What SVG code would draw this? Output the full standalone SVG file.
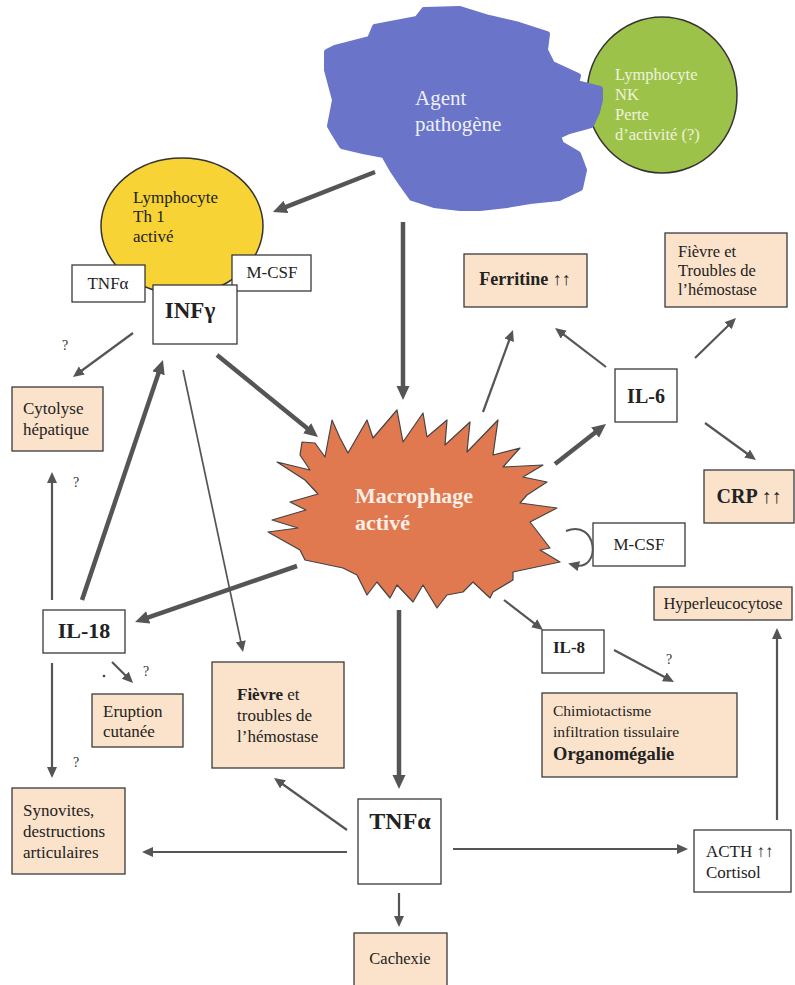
<svg xmlns="http://www.w3.org/2000/svg" width="795" height="985" viewBox="0 0 795 985">
<style>
  .t { font-family: "Liberation Serif", "Times New Roman", serif; fill: #222; }
  .b { font-weight: bold; }
  .box { fill: #ffffff; stroke: #3a3a3a; stroke-width: 1.3; }
  .pbox { fill: #fbe2cb; stroke: #3a3a3a; stroke-width: 1.3; }
  .thick { stroke: #555; stroke-width: 4.5; fill: none; marker-end: url(#ahT); }
  .thin { stroke: #555; stroke-width: 2.2; fill: none; marker-end: url(#ah); }
  .q { font-family: "Liberation Serif", serif; font-size: 14px; fill: #333; }
</style>
<defs>
  <marker id="ahT" markerUnits="userSpaceOnUse" markerWidth="16" markerHeight="14" refX="6" refY="6.5" orient="auto">
    <path d="M0,0 L14,6.5 L0,13 z" fill="#555"/>
  </marker>
  <marker id="ah" markerUnits="userSpaceOnUse" markerWidth="13" markerHeight="11" refX="5" refY="5" orient="auto">
    <path d="M0,0 L11,5 L0,10 z" fill="#555"/>
  </marker>
</defs>
<rect width="795" height="985" fill="#ffffff"/>

<g id="nk">
  <ellipse cx="662" cy="95" rx="75" ry="78" fill="#9dc24a" stroke="#333" stroke-width="1.5"/>
  <text class="t" style="fill:#eef2dc" font-size="16.5"><tspan x="615" y="80">Lymphocyte</tspan><tspan x="615" y="100">NK</tspan><tspan x="615" y="120">Perte</tspan><tspan x="615" y="140">d’activité (?)</tspan></text>
</g>

<g id="agent">
  <path d="M327,52 L335,48 L370,39 L375,27 L417,19 L424,10 L460,9 L489,18 L519,25 L547,34 L545,50 L552,64 L578,76 L576,83 L600,89 L600,100 L597,112 L591,125 L569,131 L558,136 L561,144 L578,154 L584,170 L580,188 L559,198 L530,201 L507,205 L480,208 L460,208 L434,205 L412,198 L402,184 L392,169 L384,155 L363,151 L342,146 L334,133 L330,126 L335,100 L327,70 Z" fill="#6a74c9" stroke="#6a74c9" stroke-width="6" stroke-linejoin="round"/>
  <text class="t" style="fill:#eef0f8" font-size="21"><tspan x="415" y="105">Agent</tspan><tspan x="415" y="131">pathogène</tspan></text>
</g>

<g id="th1">
  <ellipse cx="182" cy="226" rx="81" ry="68" fill="#f7d335" stroke="#333" stroke-width="1.5"/>
  <text class="t" font-size="17"><tspan x="133" y="203">Lymphocyte</tspan><tspan x="133" y="222">Th 1</tspan><tspan x="133" y="242">activé</tspan></text>
</g>

<g id="tnfa-top">
  <rect class="box" x="72" y="265" width="73" height="37"/>
  <text class="t" font-size="17" x="108" y="289" text-anchor="middle">TNFα</text>
</g>
<g id="mcsf-top">
  <rect class="box" x="232" y="255" width="79" height="36"/>
  <text class="t" font-size="17" x="272" y="278" text-anchor="middle">M-CSF</text>
</g>
<g id="infg">
  <rect class="box" x="153" y="285" width="84" height="59"/>
  <text class="t b" font-size="23" x="190" y="318" text-anchor="middle">INFγ</text>
</g>

<g id="macrophage">
  <path d="M302,442 L315,443 L325,457 L332,420 L340,438 L348,453 L367,420 L373,438 L397,410 L403,442 L423,413 L427,437 L447,420 L445,445 L470,422 L467,452 L498,420 L493,455 L520,448 L503,467 L543,465 L523,477 L547,482 L527,495 L520,503 L557,508 L530,522 L550,548 L540,550 L560,562 L513,572 L513,580 L493,592 L490,598 L473,582 L463,592 L447,595 L437,608 L423,585 L413,602 L397,585 L390,598 L377,582 L367,595 L357,575 L343,568 L305,560 L300,550 L268,532 L298,528 L272,520 L306,510 L290,502 L318,494 L305,480 L277,462 L310,470 L300,455 Z" fill="#e07850" stroke="#444" stroke-width="1.2" stroke-linejoin="round"/>
  <text class="t b" style="fill:#fbeee6" font-size="22"><tspan x="355" y="503">Macrophage</tspan><tspan x="355" y="530">activé</tspan></text>
</g>

<g id="cytolyse">
  <rect class="pbox" x="12" y="387" width="91" height="64"/>
  <text class="t" font-size="17"><tspan x="23" y="414">Cytolyse</tspan><tspan x="23" y="435">hépatique</tspan></text>
</g>

<g id="ferritine">
  <rect class="pbox" x="464" y="254" width="123" height="53"/>
  <text class="t b" font-size="18" x="525" y="285" text-anchor="middle">Ferritine ↑↑</text>
</g>

<g id="fievre-tr">
  <rect class="pbox" x="665" y="233" width="122" height="74"/>
  <text class="t" font-size="16.5"><tspan x="678" y="257">Fièvre et</tspan><tspan x="678" y="276">Troubles de</tspan><tspan x="678" y="295">l’hémostase</tspan></text>
</g>

<g id="il6">
  <rect class="box" x="615" y="369" width="62" height="53"/>
  <text class="t b" font-size="20" x="646" y="403" text-anchor="middle">IL-6</text>
</g>

<g id="crp">
  <rect class="pbox" x="704" y="470" width="90" height="53"/>
  <text class="t b" font-size="20" x="749" y="503" text-anchor="middle">CRP ↑↑</text>
</g>

<g id="mcsf-right">
  <rect class="box" x="593" y="523" width="92" height="43"/>
  <text class="t" font-size="17" x="639" y="550" text-anchor="middle">M-CSF</text>
</g>

<g id="hyper">
  <rect class="pbox" x="654" y="587" width="138" height="33"/>
  <text class="t" font-size="16.5" x="723" y="609" text-anchor="middle">Hyperleucocytose</text>
</g>

<g id="il18">
  <rect class="box" x="43" y="610" width="82" height="43"/>
  <text class="t b" font-size="22" x="84" y="638" text-anchor="middle">IL-18</text>
</g>

<g id="eruption">
  <rect class="pbox" x="92" y="694" width="91" height="53"/>
  <text class="t" font-size="17"><tspan x="103" y="717">Eruption</tspan><tspan x="103" y="737">cutanée</tspan></text>
</g>

<g id="fievre-mid">
  <rect class="pbox" x="212" y="662" width="132" height="106"/>
  <text class="t" font-size="17"><tspan x="237" y="700"><tspan class="b">Fièvre</tspan> et</tspan><tspan x="237" y="721">troubles de</tspan><tspan x="237" y="742">l’hémostase</tspan></text>
</g>

<g id="il8">
  <rect class="box" x="542" y="630" width="62" height="43"/>
  <text class="t b" font-size="17" x="553" y="653">IL-8</text>
</g>

<g id="chimio">
  <rect class="pbox" x="542" y="693" width="195" height="84"/>
  <text class="t" font-size="15.5"><tspan x="553" y="716">Chimiotactisme</tspan><tspan x="553" y="737">infiltration tissulaire</tspan></text>
  <text class="t b" font-size="18.5" x="553" y="760">Organomégalie</text>
</g>

<g id="synovites">
  <rect class="pbox" x="12" y="788" width="113" height="86"/>
  <text class="t" font-size="17"><tspan x="23" y="816">Synovites,</tspan><tspan x="23" y="837">destructions</tspan><tspan x="23" y="858">articulaires</tspan></text>
</g>

<g id="tnfa-bottom">
  <rect class="box" x="358" y="799" width="83" height="85"/>
  <text class="t b" font-size="24" x="400" y="829" text-anchor="middle">TNFα</text>
</g>

<g id="acth">
  <rect class="box" x="694" y="830" width="97" height="62"/>
  <text class="t" font-size="17"><tspan x="706" y="857">ACTH ↑↑</tspan><tspan x="706" y="878">Cortisol</tspan></text>
</g>

<g id="cachexie">
  <rect class="pbox" x="354" y="933" width="93" height="60"/>
  <text class="t" font-size="16.5" x="400" y="964" text-anchor="middle">Cachexie</text>
</g>

<g id="connectors">
  <line class="thick" x1="375" y1="172" x2="280.4" y2="209.1"/>
  <line class="thick" x1="403" y1="222" x2="403" y2="392"/>
  <line class="thick" x1="217" y1="355" x2="311.8" y2="432"/>
  <line class="thick" x1="82" y1="600" x2="160.4" y2="367.6"/>
  <line class="thick" x1="297" y1="566" x2="142.6" y2="619.4"/>
  <line class="thick" x1="555" y1="464" x2="599.7" y2="428.9"/>
  <line class="thick" x1="399" y1="610" x2="399" y2="781"/>

  <line class="thin" x1="133" y1="333" x2="77.8" y2="373.5"/>
  <line class="thin" x1="52" y1="600" x2="52" y2="478"/>
  <line class="thin" x1="183" y1="370" x2="241.8" y2="646.1" style="stroke-width:1.7"/>
  <line class="thin" x1="112" y1="662" x2="128.8" y2="678.8"/>
  <line class="thin" x1="52" y1="663" x2="52" y2="772"/>
  <line class="thin" x1="347" y1="830" x2="278.9" y2="781.5"/>
  <line class="thin" x1="347" y1="852" x2="148" y2="852"/>
  <line class="thin" x1="453" y1="849" x2="682" y2="849"/>
  <line class="thin" x1="399" y1="893" x2="399" y2="921"/>
  <line class="thin" x1="777" y1="820" x2="777" y2="634"/>
  <line class="thin" x1="504" y1="600" x2="538.2" y2="626.3"/>
  <line class="thin" x1="614" y1="650" x2="668.7" y2="679.2"/>
  <line class="thin" x1="483" y1="412" x2="510.9" y2="335.6"/>
  <line class="thin" x1="606" y1="367" x2="559.8" y2="331.6"/>
  <line class="thin" x1="695" y1="358" x2="731.7" y2="322.2"/>
  <line class="thin" x1="705" y1="423" x2="751.1" y2="456.5"/>
  <path d="M566,531 C598,518 602,572 574,565" stroke="#555" stroke-width="2" fill="none" marker-end="url(#ah)"/>
  <circle cx="104" cy="676" r="1.3" fill="#444"/>
</g>

<g id="labels">
  <text class="q" x="62" y="350">?</text>
  <text class="q" x="73" y="487">?</text>
  <text class="q" x="143" y="676">?</text>
  <text class="q" x="73" y="767">?</text>
  <text class="q" x="666" y="664">?</text>
</g>
</svg>
